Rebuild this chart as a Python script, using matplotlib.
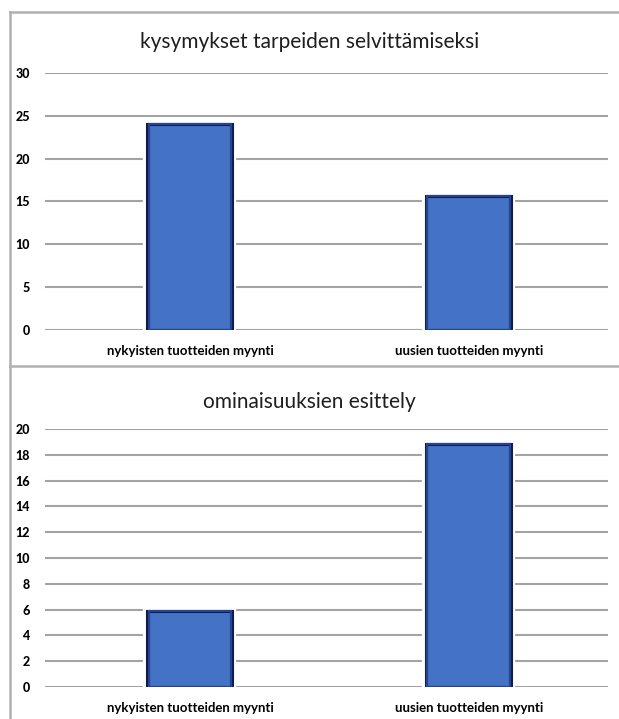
import matplotlib.pyplot as plt
from matplotlib.lines import Line2D

# Data
categories = ["nykyisten tuotteiden myynti", "uusien tuotteiden myynti"]

title_top = "kysymykset tarpeiden selvittämiseksi"
values_top = [24.1, 15.7]
ticks_top = [0, 5, 10, 15, 20, 25, 30]

title_bottom = "ominaisuuksien esittely"
values_bottom = [5.9, 18.8]
ticks_bottom = [0, 2, 4, 6, 8, 10, 12, 14, 16, 18, 20]

plt.rcParams["font.family"] = ["Lato", "DejaVu Sans"]

W, H = 619, 719
fig = plt.figure(figsize=(W / 100, H / 100), dpi=100)


def px_rect(left, top, right, bottom):
    return [left / W, 1 - bottom / H, (right - left) / W, (bottom - top) / H]


def draw_panel(ax, values, ticks, title, title_y):
    x = range(len(categories))
    for t in ticks:
        ax.axhline(t, color="#a3a3a3", lw=1.5, zorder=1)
    # white halo so the gridlines stop short of the bars
    ax.bar(x, values, width=0.305, color="white", edgecolor="white", lw=6, zorder=2)
    ax.bar(x, values, width=0.305, color="#4472c4", edgecolor="#0c1a4e", lw=2.2, zorder=3)
    # soft inner shading along the edge
    ax.bar(x, values, width=0.297, color="none", edgecolor="#24448f", lw=1.6, zorder=4)
    ax.set_xlim(-0.52, 1.5)
    ax.set_ylim(0, ticks[-1])
    ax.set_yticks(ticks)
    ax.set_yticklabels([str(t) for t in ticks], fontsize=9, fontweight="black")
    ax.set_xticks(list(x))
    ax.set_xticklabels(categories, fontsize=9.5, fontweight="bold")
    ax.tick_params(axis="y", length=0, pad=11)
    ax.tick_params(axis="x", length=0, pad=11)
    for s in ax.spines.values():
        s.set_visible(False)
    fig.text(0.5, title_y, title, ha="center", va="center", fontsize=15, color="#1e1e1e")


ax1 = fig.add_axes(px_rect(45, 73, 608, 330))
draw_panel(ax1, values_top, ticks_top, title_top, 1 - 42 / H)

ax2 = fig.add_axes(px_rect(45, 429, 608, 687))
draw_panel(ax2, values_bottom, ticks_bottom, title_bottom, 1 - 402 / H)

# panel frames
frame = dict(color="#b0b0b0", lw=1.8, transform=fig.transFigure)
fig.add_artist(Line2D([10 / W, 1], [1 - 12 / H, 1 - 12 / H], **frame))
fig.add_artist(Line2D([10 / W, 1], [1 - 366 / H, 1 - 366 / H], **frame))
fig.add_artist(Line2D([10 / W, 10 / W], [1 - 12 / H, 0], **frame))

fig.savefig("out.png", dpi=100)
